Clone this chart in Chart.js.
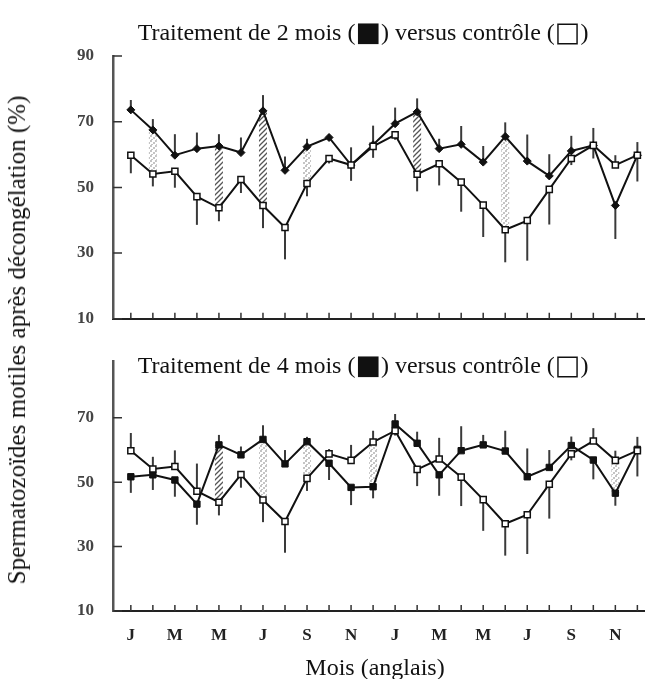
<!DOCTYPE html>
<html lang="fr">
<head>
  <meta charset="UTF-8">
  <title>Spermatozoïdes motiles après décongélation</title>
  <style>
    * { margin: 0; padding: 0; box-sizing: border-box; }
    body { width: 650px; height: 679px; background: #fff; position: relative; overflow: hidden;
           font-family: "Liberation Serif", "Times New Roman", serif; color: #111; }
    canvas { position: absolute; left: 0; }
    #top { top: 0; }
    #bottom { top: 340px; }
    .title { position: absolute; left: 0; width: 726px; text-align: center; font-size: 24px; line-height: 28px; white-space: nowrap; }
    .box { font-family: "DejaVu Sans", sans-serif; font-size: 27px; line-height: 0; position: relative; top: 1px; }
    #ylabel { position: absolute; left: 17px; top: 340px; font-size: 25px; white-space: nowrap;
              transform: translate(-50%, -50%) rotate(-90deg); }
    #xlabel { position: absolute; left: 0; width: 750px; top: 653px; text-align: center; font-size: 24px; line-height: 28px; }
  </style>
  <script src="https://cdn.jsdelivr.net/npm/chart.js"></script>
</head>
<body>
  <canvas id="top" width="650" height="340"></canvas>
  <canvas id="bottom" width="650" height="339"></canvas>
  <div class="title" style="top:18px">Traitement de 2 mois (<span class="box">■</span>) versus contrôle (<span class="box">□</span>)</div>
  <div class="title" style="top:351px">Traitement de 4 mois (<span class="box">■</span>) versus contrôle (<span class="box">□</span>)</div>
  <div id="ylabel">Spermatozoïdes motiles après décongélation (%)</div>
  <div id="xlabel">Mois (anglais)</div>

  <script>
    // 24 months, two years (English initials)
    const months = ['J','F','M','A','M','J','J','A','S','O','N','D','J','F','M','A','M','J','J','A','S','O','N','D'];

    const control    = [59.8, 54.1, 54.9, 47.2, 43.8, 52.4, 44.5, 37.8, 51.2, 58.8, 56.8, 62.5, 66.0, 54.0, 57.2, 51.6, 44.6, 37.1, 39.9, 49.4, 58.8, 62.8, 56.8, 59.8];
    const controlErr = [5.5, 3.8, 5.0, 8.6, 4.1, 4.1, 6.9, 9.7, 3.9, 1.5, 4.8, 3.5, 1.5, 5.2, 6.6, 9.0, 9.7, 9.9, 12.2, 10.7, 2.0, 4.0, 3.0, 8.0];

    const treat2     = [73.6, 67.5, 59.8, 61.8, 62.6, 60.6, 73.3, 55.2, 62.4, 65.2, 56.8, 63.0, 69.4, 73.0, 61.8, 63.1, 57.7, 65.5, 58.0, 53.5, 61.1, 62.8, 44.5, 59.8];
    const treat2Err  = [3.0, 3.3, 6.4, 4.9, 3.6, 4.6, 4.8, 4.2, 2.4, 1.0, 5.4, 5.8, 4.9, 4.1, 3.0, 5.6, 4.9, 4.3, 8.1, 6.6, 4.6, 5.3, 10.2, 4.0];

    const treat4     = [51.7, 52.3, 50.7, 43.2, 61.6, 58.5, 63.3, 55.7, 62.6, 55.9, 48.4, 48.6, 68.1, 62.1, 52.3, 59.8, 61.6, 59.7, 51.7, 54.6, 61.4, 56.9, 46.6, 60.2];
    const treat4Err  = [5.0, 4.7, 5.2, 6.4, 3.1, 2.6, 4.4, 4.3, 1.5, 5.2, 5.5, 3.6, 3.1, 3.6, 6.5, 7.6, 3.1, 6.3, 8.8, 5.4, 2.8, 6.0, 3.9, 3.9];

    // months with a significant difference (hatched = strong, dotted = weak)
    const sig2Strong = [4, 6, 13];
    const sig2Weak   = [1, 8, 17];
    const sig4Strong = [4];
    const sig4Weak   = [6, 8, 11, 22];

    const yTicksTop    = [10, 30, 50, 70, 90];
    const yTicksBottom = [10, 30, 50, 70];

    function makePattern(kind) {
      const c = document.createElement('canvas');
      c.width = 5; c.height = 5;
      const g = c.getContext('2d');
      g.fillStyle = '#fff';
      g.fillRect(0, 0, 5, 5);
      if (kind === 'hatch') {
        g.strokeStyle = '#555';
        g.lineWidth = 1.3;
        g.beginPath();
        g.moveTo(-1, 6); g.lineTo(6, -1);
        g.moveTo(-1, 1); g.lineTo(1, -1);
        g.moveTo(4, 6); g.lineTo(6, 4);
        g.stroke();
      } else {
        g.fillStyle = '#c4c4c4';
        g.fillRect(0, 0, 2, 2);
        g.fillRect(3, 2, 2, 2);
        g.fillRect(1, 4, 2, 1);
      }
      return g.createPattern(c, 'repeat');
    }
    const hatch = makePattern('hatch');
    const dots = makePattern('dots');

    const marks = {
      id: 'marks',
      beforeDatasetsDraw(chart, args, o) {
        const { ctx, scales: { x, y } } = chart;
        ctx.save();
        const band = (list, pat) => list.forEach(i => {
          const px = x.getPixelForValue(i);
          const y1 = y.getPixelForValue(o.filled[i]);
          const y2 = y.getPixelForValue(o.ctrl[i]);
          ctx.fillStyle = pat;
          ctx.fillRect(px - 4, Math.min(y1, y2), 8, Math.abs(y2 - y1));
        });
        band(o.strong, hatch);
        band(o.weak, dots);

        // error bars point away from the other series
        ctx.strokeStyle = '#3a3a3a';
        ctx.lineWidth = 2;
        const bar = (i, a, b) => {
          const px = x.getPixelForValue(i);
          ctx.beginPath();
          ctx.moveTo(px, y.getPixelForValue(a));
          ctx.lineTo(px, y.getPixelForValue(b));
          ctx.stroke();
        };
        o.filled.forEach((v, i) => {
          const c = o.ctrl[i];
          const up = v >= c;
          bar(i, v, up ? v + o.filledErr[i] : v - o.filledErr[i]);
          bar(i, c, up ? c - o.ctrlErr[i] : c + o.ctrlErr[i]);
        });
        ctx.restore();
      },
      afterDraw(chart, args, o) {
        const { ctx, scales: { x, y } } = chart;
        ctx.save();
        ctx.strokeStyle = '#333';
        ctx.lineWidth = 1.5;
        ctx.beginPath();
        months.forEach((m, i) => {
          const px = x.getPixelForValue(i);
          ctx.moveTo(px, y.bottom);
          ctx.lineTo(px, y.bottom - 6);
        });
        o.yTicks.forEach(v => {
          const py = y.getPixelForValue(v);
          ctx.moveTo(x.left, py);
          ctx.lineTo(x.left + 9, py);
        });
        ctx.stroke();
        ctx.restore();
      }
    };

    const tickFont = { family: 'Liberation Serif', size: 17, weight: 'bold' };

    function makeChart(id, filled, filledErr, filledStyle, filledRadius, strong, weak, yMax, yTicks, padTop, xHeight, showMonths) {
      const pts = arr => arr.map((v, i) => ({ x: i, y: v }));
      return new Chart(document.getElementById(id), {
        type: 'line',
        data: {
          datasets: [
            {
              label: 'contrôle',
              data: pts(control),
              borderColor: '#111',
              borderWidth: 2,
              pointStyle: 'rect',
              pointRadius: 4.3,
              pointBackgroundColor: '#fff',
              pointBorderColor: '#111',
              pointBorderWidth: 1.5,
              tension: 0
            },
            {
              label: 'traitement',
              data: pts(filled),
              borderColor: '#111',
              borderWidth: 2,
              pointStyle: filledStyle,
              pointRadius: filledRadius,
              pointBackgroundColor: '#111',
              pointBorderColor: '#111',
              pointBorderWidth: 1,
              tension: 0
            }
          ]
        },
        options: {
          responsive: false,
          animation: false,
          layout: { padding: { top: padTop, left: 0, right: 0, bottom: 0 } },
          plugins: {
            legend: { display: false },
            tooltip: { enabled: false },
            marks: { filled: filled, ctrl: control, filledErr: filledErr, ctrlErr: controlErr, strong: strong, weak: weak, yTicks: yTicks }
          },
          scales: {
            x: {
              type: 'linear',
              min: -0.81,
              max: 23.31,
              grid: { display: false },
              border: { display: true, color: '#222', width: 2 },
              afterBuildTicks: s => { s.ticks = months.map((m, i) => ({ value: i })); },
              afterFit: s => { s.height = xHeight; },
              ticks: {
                display: showMonths,
                autoSkip: false,
                maxRotation: 0,
                padding: 6,
                color: '#222',
                font: tickFont,
                callback: v => (v % 2 === 0 ? months[v] : '')
              }
            },
            y: {
              min: 10,
              max: yMax,
              grid: { display: false },
              border: { display: true, color: '#555', width: 2.5 },
              afterBuildTicks: s => { s.ticks = yTicks.map(v => ({ value: v })); },
              afterFit: s => { s.width = 113; },
              ticks: { padding: 11, color: '#444', font: tickFont }
            }
          }
        },
        plugins: [marks]
      });
    }

    makeChart('top', treat2, treat2Err, 'rectRot', 4, sig2Strong, sig2Weak, 90, yTicksTop, 56, 20, false);
    makeChart('bottom', treat4, treat4Err, 'rect', 4.5, sig4Strong, sig4Weak, 87.6, yTicksBottom, 20, 68, true);
  </script>
</body>
</html>
